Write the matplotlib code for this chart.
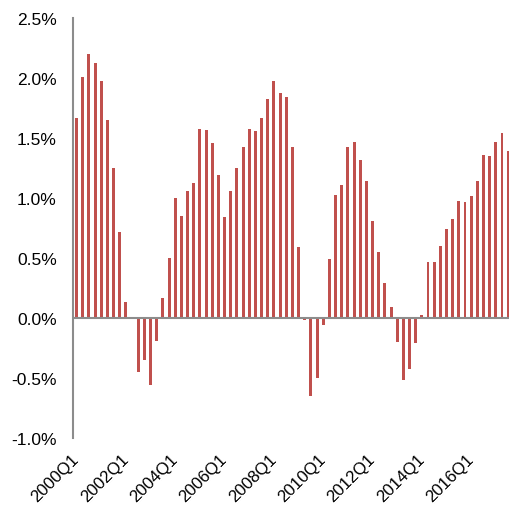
import matplotlib
matplotlib.use("Agg")
import matplotlib.pyplot as plt
import numpy as np

plt.rcParams['font.family'] = ['Liberation Sans', 'DejaVu Sans']

years = list(range(2000, 2018))
quarters = [f"{y}Q{q}" for y in years for q in range(1, 5)][:71]

values = [1.67, 2.01, 2.20, 2.13, 1.975, 1.65, 1.25, 0.72, 0.136, 0.01,
          -0.45, -0.35, -0.555, -0.19, 0.17, 0.50, 1.00, 0.855, 1.06, 1.13,
          1.575, 1.57, 1.46, 1.19, 0.84, 1.06, 1.25, 1.43, 1.58, 1.56,
          1.67, 1.83, 1.98, 1.88, 1.84, 1.43, 0.594, -0.02, -0.65, -0.50,
          -0.06, 0.49, 1.03, 1.11, 1.43, 1.47, 1.32, 1.14, 0.81, 0.55,
          0.29, 0.09, -0.20, -0.52, -0.425, -0.21, 0.025, 0.47, 0.47, 0.605,
          0.74, 0.825, 0.98, 0.97, 1.02, 1.14, 1.36, 1.355, 1.47, 1.54,
          1.39]

yticks = [-1.0, -0.5, 0.0, 0.5, 1.0, 1.5, 2.0, 2.5]
xtick_labels = [q for q in quarters if q.endswith("Q1") and int(q[:4]) % 2 == 0]

fig = plt.figure(figsize=(5.10, 5.06), dpi=100)
ax = fig.add_axes([0.144, 0.1324, 0.856, 0.8294])

x = np.arange(len(values))
ax.bar(x, values, width=0.48, color='#C0504D', zorder=2)
ax.axhline(0, color='#8C8C8C', lw=1.5, zorder=3)

ax.set_xlim(-0.52, 70.3)
ax.set_ylim(-1.0, 2.5)
ax.set_yticks(yticks)
ax.set_yticklabels([f"{v:.1f}%" for v in yticks], fontsize=12.5)
ax.tick_params(axis='y', length=0, pad=12)

xt = [quarters.index(l) for l in xtick_labels]
ax.set_xticks(xt)
ax.set_xticklabels(xtick_labels, rotation=45, ha='right', va='center',
                   rotation_mode='anchor', fontsize=12.2)
ax.tick_params(axis='x', length=0, pad=13)

for s in ['top', 'right', 'bottom']:
    ax.spines[s].set_visible(False)
ax.spines['left'].set_color('#8C8C8C')
ax.spines['left'].set_linewidth(1.5)

fig.savefig("out.png", dpi=100)
